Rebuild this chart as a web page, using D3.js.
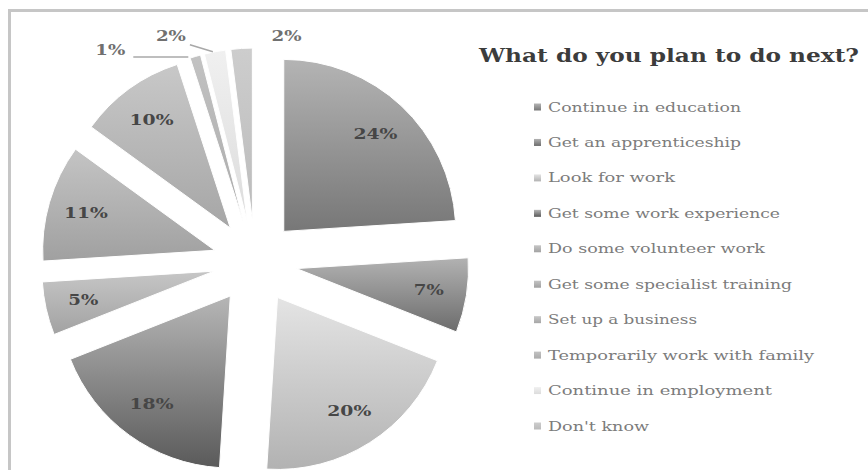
<!DOCTYPE html>
<html>
<head>
<meta charset="utf-8">
<script src="https://cdn.jsdelivr.net/npm/d3@7/dist/d3.min.js"></script>
<style>
  html, body { margin: 0; padding: 0; background: #ffffff; }
  svg { display: block; }
</style>
</head>
<body>
<svg id="chart" width="868" height="470"></svg>
<script>
// ---- data ----
const title = "What do you plan to do next?";
const categories = [
  "Continue in education",
  "Get an apprenticeship",
  "Look for work",
  "Get some work experience",
  "Do some volunteer work",
  "Get some specialist training",
  "Set up a business",
  "Temporarily work with family",
  "Continue in employment",
  "Don't know"
];
const shares = [24, 7, 20, 18, 5, 11, 10, 1, 2, 2];   // percent of respondents

// ---- styles: gradient shades per slice (top, bottom) ----
const shadeTop    = ["#b4b4b4", "#b2b2b2", "#e4e4e4", "#b6b6b6", "#c6c6c6", "#c4c4c4", "#c8c8c8", "#c2c2c2", "#f0f0f0", "#cdcdcd"];
const shadeBottom = ["#777777", "#6c6c6c", "#b2b2b2", "#5a5a5a", "#a2a2a2", "#a0a0a0", "#a6a6a6", "#ababab", "#dcdcdc", "#bbbbbb"];

// ---- layout ----
const W = 868, H = 470;
const cx = 255, cy = 262;      // pie centre before explosion
const R = 172;                 // slice radius
const EXPLODE = 42;            // distance every slice is pulled out
const LABEL_R = 134;           // inside-label distance from a slice's tip
// callout placement for the thin slices, relative to the slice's outer midpoint
const callouts = {
  7: { dx: -85, dy: -6,  leader: [[-62, 0.5], [-7, 0.5]] },
  8: { dx: -44, dy: -16, leader: [[-25, -7], [-2, 0]] },
  9: { dx: 45,  dy: -12, leader: null }
};
const labelWidths = { 2: 30, 3: 44 };   // stretched label widths by character count

const svg = d3.select("#chart");
const defs = svg.append("defs");

// frame
svg.append("rect")
  .attr("x", 9.5).attr("y", 10.5)
  .attr("width", W + 20).attr("height", H + 20)
  .attr("fill", "none")
  .attr("stroke", "#c6c6c6")
  .attr("stroke-width", 3);

// gradients
shares.forEach((_, i) => {
  const g = defs.append("linearGradient")
    .attr("id", "shade" + i)
    .attr("x1", 0).attr("y1", 0).attr("x2", 0).attr("y2", 1);
  g.append("stop").attr("offset", "0%").attr("stop-color", shadeTop[i]);
  g.append("stop").attr("offset", "100%").attr("stop-color", shadeBottom[i]);
});

const pie = d3.pie().sort(null).value(d => d);
const arcs = pie(shares);
const arc = d3.arc().innerRadius(0).outerRadius(R);

const dirOf = a => [Math.sin(a), -Math.cos(a)];

const slices = svg.append("g").attr("class", "slices");
arcs.forEach((a, i) => {
  const mid = (a.startAngle + a.endAngle) / 2;
  const [ux, uy] = dirOf(mid);
  const tx = cx + EXPLODE * ux, ty = cy + EXPLODE * uy;
  const g = slices.append("g").attr("transform", `translate(${tx},${ty})`);
  g.append("path")
    .attr("d", arc(a))
    .attr("fill", `url(#shade${i})`)
    .attr("stroke", "#ffffff")
    .attr("stroke-width", 1);

  const text = a.data + "%";
  const lw = labelWidths[text.length];
  if (callouts[i]) {
    const c = callouts[i];
    const ox = tx + R * ux, oy = ty + R * uy;
    if (c.leader) {
      svg.append("line")
        .attr("x1", ox + c.leader[0][0]).attr("y1", oy + c.leader[0][1])
        .attr("x2", ox + c.leader[1][0]).attr("y2", oy + c.leader[1][1])
        .attr("stroke", "#a8a8a8").attr("stroke-width", 1.5);
    }
    svg.append("text")
      .attr("x", ox + c.dx).attr("y", oy + c.dy)
      .attr("text-anchor", "middle")
      .attr("dominant-baseline", "central")
      .attr("font-family", "DejaVu Serif, serif")
      .attr("font-weight", "bold")
      .attr("font-size", 14)
      .attr("fill", "#707070")
      .attr("textLength", lw).attr("lengthAdjust", "spacingAndGlyphs")
      .text(text);
  } else {
    svg.append("text")
      .attr("x", tx + LABEL_R * ux).attr("y", ty + LABEL_R * uy)
      .attr("text-anchor", "middle")
      .attr("dominant-baseline", "central")
      .attr("font-family", "DejaVu Serif, serif")
      .attr("font-weight", "bold")
      .attr("font-size", 14)
      .attr("fill", "#464646")
      .attr("textLength", lw).attr("lengthAdjust", "spacingAndGlyphs")
      .text(text);
  }
});

// title
svg.append("text")
  .attr("x", 479).attr("y", 62)
  .attr("font-family", "DejaVu Serif, serif")
  .attr("font-weight", "bold")
  .attr("font-size", 19)
  .attr("fill", "#3c3c3c")
  .attr("textLength", 380).attr("lengthAdjust", "spacingAndGlyphs")
  .text(title);

// legend
const legendWidths = [193, 193, 127, 232, 217, 244, 149, 266, 224, 101];
const legendY = d3.scalePoint().domain(d3.range(categories.length)).range([107, 426]);
const legend = svg.append("g").attr("class", "legend");
categories.forEach((name, i) => {
  const y = legendY(i);
  legend.append("rect")
    .attr("x", 534).attr("y", y - 3.5)
    .attr("width", 7).attr("height", 7)
    .attr("fill", `url(#shade${i})`);
  legend.append("text")
    .attr("x", 548).attr("y", y)
    .attr("dominant-baseline", "central")
    .attr("font-family", "DejaVu Serif, serif")
    .attr("font-size", 13)
    .attr("fill", "#7c7c7c")
    .attr("textLength", legendWidths[i]).attr("lengthAdjust", "spacingAndGlyphs")
    .text(name);
});
</script>
</body>
</html>
